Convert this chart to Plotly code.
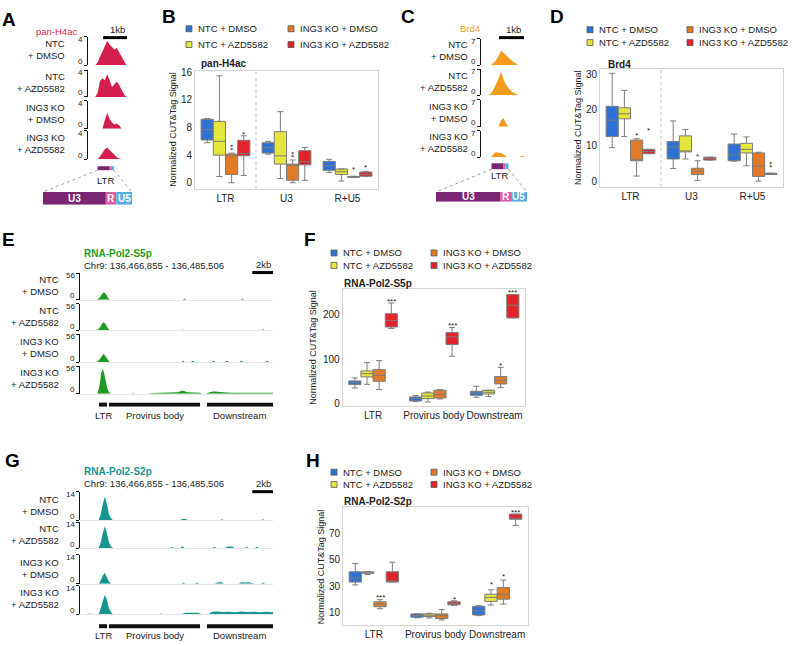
import plotly.graph_objects as go

W, H = 792, 646
FONT = "Liberation Sans, Arial, Helvetica, sans-serif"

conditions = ["NTC + DMSO", "NTC + AZD5582", "ING3 KO + DMSO", "ING3 KO + AZD5582"]
box_colors = ["#2e72d6", "#e5e63c", "#e27b28", "#e2242a"]
track_names = ["NTC<br>+ DMSO", "NTC<br>+ AZD5582", "ING3 KO<br>+ DMSO", "ING3 KO<br>+ AZD5582"]

# box summaries per region: [lower whisker, q1, median, q3, upper whisker]
b_regions = ["LTR", "U3", "R+U5"]
b_ntc_dmso = [[5.8, 6.2, 7.7, 9.2, 9.3], [4.15, 4.3, 5.1, 5.8, 6.0], [1.5, 1.8, 2.5, 3.1, 3.4]]
b_ntc_azd = [[0.9, 4.0, 6.0, 8.9, 15.5], [0.6, 2.7, 3.9, 7.4, 10.3], [0.25, 1.2, 1.6, 2.0, 2.0]]
b_ko_dmso = [[0.0, 1.2, 3.9, 4.15, 4.3], [0.0, 0.35, 2.5, 2.7, 3.3], [0.75, 0.8, 0.85, 0.9, 0.95]]
b_ko_azd = [[1.05, 3.9, 4.25, 6.15, 6.8], [0.35, 2.6, 3.05, 4.65, 5.1], [0.9, 0.95, 1.2, 1.55, 1.6]]
# (region, condition, label, y, stacked vertically)
b_stars = [(0, 2, "**", 5.2, True), (0, 3, "*", 7.3, False), (1, 2, "**", 4.15, True),
           (2, 2, "*", 2.25, False), (2, 3, "*", 2.5, False)]

d_regions = ["LTR", "U3", "R+U5"]
d_ntc_dmso = [[9.4, 12.5, 17.1, 21.0, 30.3], [3.5, 6.2, 9.6, 11.1, 16.9], [5.6, 5.7, 7.4, 10.4, 13.2]]
d_ntc_azd = [[12.5, 17.5, 18.9, 20.6, 25.5], [6.2, 8.2, 8.3, 12.7, 14.5], [4.3, 7.9, 8.9, 10.6, 12.4]]
d_ko_dmso = [[1.4, 5.7, 5.9, 11.5, 11.9], [0.2, 1.85, 2.8, 3.6, 5.7], [0.0, 1.3, 4.2, 7.9, 8.1]]
d_ko_azd = [[7.7, 7.7, 8.3, 8.9, 8.9], [5.9, 5.9, 6.4, 6.7, 6.7], [1.85, 1.85, 2.0, 2.2, 2.2]]
d_stars = [(0, 2, "*", 13.3, False), (0, 3, "*", 14.7, False), (1, 2, "*", 7.4, False),
           (2, 3, "**", 4.7, True)]

f_regions = ["LTR", "Provirus body", "Downstream"]
f_ntc_dmso = [[35, 42.7, 47, 51, 57.7], [4.5, 6, 11.2, 15, 18], [14.2, 18.7, 24, 27.7, 39]]
f_ntc_azd = [[43.4, 60, 67.4, 73.4, 92], [3.7, 11.2, 17, 24, 26], [15.7, 21.7, 25.5, 30, 30]]
f_ko_dmso = [[31.5, 50.2, 63.7, 76.4, 96.6], [10.5, 12.7, 21, 30, 31.5], [36, 44.2, 52.4, 60.7, 81.6]]
f_ko_azd = [[168.5, 172, 187, 202, 226], [106.4, 132.6, 150, 159.5, 171], [192.5, 192.5, 221, 245, 245]]
f_stars = [(0, 3, "***", 234, False), (1, 3, "***", 179, False), (2, 2, "*", 91, False),
           (2, 3, "***", 253, False)]

h_regions = ["LTR", "Provirus body", "Downstream"]
h_ntc_dmso = [[31.1, 33.3, 36.3, 41, 47.2], [6.3, 6.8, 8, 9.3, 9.3], [8, 8.5, 11.7, 15, 15.5]]
h_ntc_azd = [[39, 39.8, 40.3, 41, 41], [6.3, 7.3, 8.3, 9.3, 9.8], [16, 18.7, 21.7, 24.1, 27.4]]
h_ko_dmso = [[13.2, 14.7, 16.7, 18.4, 20], [4.8, 5.8, 8, 9.3, 12.5], [16.7, 20.4, 24.1, 29.1, 34.8]]
h_ko_azd = [[33.3, 33.3, 33.8, 41, 48.2], [15.7, 16.2, 17.2, 18.4, 19.2], [75.8, 80.5, 80.7, 84.4, 84.4]]
h_stars = [(0, 2, "***", 23.4, False), (1, 3, "*", 21.7, False), (2, 1, "*", 32.8, False),
           (2, 2, "*", 39, False), (2, 3, "***", 86.9, False)]

# coverage tracks (position in kb, signal)
a_kb = [0.3, 0.4, 0.5, 0.6, 0.7, 0.8, 0.9, 1.0, 1.1, 1.2, 1.3, 1.4, 1.5, 1.6]
a_ntc_dmso = [0, 0.4, 1.2, 1.9, 2.6, 3.4, 2.9, 2.6, 2.2, 2.4, 1.8, 1.3, 0.8, 0]
a_ntc_azd = [0, 0.6, 2.4, 2.8, 2.5, 3.4, 2.5, 1.5, 1.9, 2.3, 1.8, 1.0, 0.4, 0]
a_ko_dmso = [0, 0, 0, 0, 1.2, 2.3, 1.4, 0.9, 0.6, 0.7, 0.5, 0, 0, 0]
a_ko_azd = [0, 0, 0.4, 0.9, 1.4, 1.65, 1.3, 0.9, 0.6, 0.3, 0.1, 0, 0, 0]

c_kb = [0.3, 0.4, 0.5, 0.6, 0.7, 0.8, 0.9, 1.0, 1.1, 1.2, 1.3, 1.4, 1.5, 1.6, 1.7, 1.8]
c_ntc_dmso = [0, 0.1, 0.6, 1.3, 2.4, 3.9, 3.3, 2.6, 2.0, 1.4, 0.9, 0.5, 0, 0, 0, 0]
c_ntc_azd = [0, 0.5, 1.5, 2.8, 4.5, 6.3, 4.2, 2.8, 1.8, 1.1, 0.6, 0.2, 0, 0, 0, 0]
c_ko_dmso = [0, 0, 0, 0, 0, 1.6, 2.3, 0.8, 0, 0, 0, 0, 0, 0, 0, 0]
c_ko_azd = [0, 0, 0.9, 1.3, 1.2, 1.1, 0.8, 0.2, 0, 0, 0, 0, 0, 0.3, 0.3, 0]

e1_kb = [1.6, 1.9, 2.1, 2.3, 2.5, 2.7, 2.9, 9.9, 10.1, 10.3, 15.5, 15.7, 15.9]
e1_val = [0, 4, 11, 15.5, 12, 4, 0, 0, 2.5, 0, 0, 2.5, 0]
e2_kb = [1.6, 1.9, 2.1, 2.3, 2.5, 2.7, 2.9, 9.8, 9.95, 10.1, 17.5, 17.7, 17.9]
e2_val = [0, 5, 13, 17.5, 12, 4, 0, 0, 2.2, 0, 0, 2.5, 0]
e3_kb = [1.6, 1.9, 2.1, 2.3, 2.5, 2.7, 2.9, 9.8, 9.95, 10.1, 10.7, 10.9, 11.1, 12.7, 12.9, 13.1,
         14.0, 14.2, 14.4, 15.4, 15.6, 15.8, 17.9, 18.1, 18.3]
e3_val = [0, 5, 12, 17, 11, 4, 0, 0, 2.5, 0, 0, 2.5, 0, 0, 2.5, 0, 0, 2.5, 0, 0, 2.5, 0, 0, 2.5, 0]
e4_kb = [1.7, 1.9, 2.05, 2.2, 2.35, 2.5, 2.65, 2.8, 3.0, 5.0, 5.1, 5.2, 6.6, 7.0, 7.6, 8.2, 8.8, 9.4,
         9.7, 9.95, 10.2, 10.5, 11.0, 11.6, 11.8, 12.2, 12.5, 12.9, 13.3, 13.7, 14.2, 14.8, 15.4,
         16.0, 16.6, 17.2, 17.8, 18.4, 18.65]
e4_val = [0, 18, 42, 51, 40, 24, 10, 3, 0, 0, 1.5, 0, 0, 1.6, 2.0, 2.2, 2.4, 3.2, 4.8, 6.5, 4.2, 2.8,
          2.4, 1.8, 0, 0, 3.2, 4.4, 4.0, 2.8, 2.4, 2.2, 2.4, 2.0, 2.2, 2.4, 1.9, 2.1, 1.8]

g1_kb = [1.8, 2.0, 2.2, 2.4, 2.6, 2.8, 3.0, 3.2, 9.6, 9.9, 10.2, 10.5, 13.5, 13.7, 13.9, 17.5, 17.7, 17.9]
g1_val = [0, 3, 8, 11.5, 8, 3, 1, 0, 0, 0.7, 0.7, 0, 0, 0.5, 0, 0, 0.5, 0]
g2_kb = [1.8, 2.0, 2.2, 2.4, 2.6, 2.8, 3.0, 3.2, 8.7, 8.9, 9.1, 9.7, 9.9, 10.1, 12.8, 13.0, 13.2,
         14.0, 14.3, 14.7, 14.9, 15.9, 16.1, 16.3, 16.9, 17.1, 17.3]
g2_val = [0, 3, 8, 11.8, 8, 3, 1, 0, 0, 0.5, 0, 0, 1.0, 0, 0, 0.7, 0, 0, 0.8, 0.8, 0, 0, 0.6, 0,
          0, 0.7, 0]
g3_kb = [1.8, 2.0, 2.2, 2.4, 2.6, 2.8, 3.0, 4.9, 5.0, 5.1, 9.8, 10.0, 10.2, 11.1, 11.3, 11.5,
         13.0, 13.3, 13.7, 13.9, 15.3, 15.6, 16.0, 16.4, 16.8, 17.5, 17.7, 17.9]
g3_val = [0, 1.5, 4, 5.3, 3, 1, 0, 0, 0.3, 0, 0, 0.6, 0, 0, 0.5, 0, 0, 0.7, 0.7, 0, 0, 0.7, 0.5,
          0.7, 0, 0, 0.6, 0]
g4_kb = [0.3, 0.8, 1.4, 1.8, 2.0, 2.2, 2.4, 2.6, 2.8, 3.0, 3.2, 7.6, 7.8, 8.0, 9.8, 10.2, 10.8,
         11.4, 11.8, 12.4, 12.8, 13.3, 13.8, 14.4, 15.0, 15.6, 16.2, 16.8, 17.4, 18.0, 18.65]
g4_val = [0, 0.3, 0.2, 0, 3, 7, 9.6, 7, 3, 1, 0, 0, 0.4, 0, 0, 0.8, 0.7, 0.8, 0, 0, 1.2, 1.4, 1.1,
          1.3, 1.0, 1.4, 1.1, 1.3, 1.0, 1.3, 1.0]

locus = "Chr9: 136,466,855 - 136,485,506"
locus_kb = 18.651
gene_regions = ["LTR", "Provirus body", "Downstream"]
gene_start_kb = [1.84, 2.8, 12.27]
gene_end_kb = [2.61, 11.6, 18.65]

ltr_parts = ["U3", "R", "U5"]
ltr_bp = [480, 80, 120]
ltr_colors = ["#7a2673", "#dc5a9e", "#52aee2"]

fig = go.Figure()
layout = {}
ann = []
shapes = []


def names(n):
    s = "" if n == 1 else str(n)
    return "x" + s, "y" + s, "xaxis" + s, "yaxis" + s


def text(x, y, s, size=9, color="#222", xanchor="center", align="center", **kw):
    ann.append(dict(x=x / W, y=1 - y / H, xref="paper", yref="paper", text=s, showarrow=False,
                    font=dict(size=size, color=color), xanchor=xanchor, yanchor="middle",
                    align=align, **kw))


def box_panel(n, cats, data, stars, xpx, ypx, yrange, yticks, title, title_x, title_y,
              ytitle_x, leg_x, leg_y, divider):
    xa, ya, xk, yk = names(n)
    for i, stats in enumerate(data):
        fig.add_trace(go.Box(
            x=cats, lowerfence=[s[0] for s in stats], q1=[s[1] for s in stats],
            median=[s[2] for s in stats], q3=[s[3] for s in stats],
            upperfence=[s[4] for s in stats], name=conditions[i],
            alignmentgroup="panel%d" % n, offsetgroup=str(i),
            fillcolor=box_colors[i], line=dict(color="#7c7c7c", width=1), whiskerwidth=0.5,
            boxpoints=False, showlegend=False, hoverinfo="skip", xaxis=xa, yaxis=ya))
    layout[xk] = dict(domain=[xpx[0] / W, xpx[1] / W], anchor=ya, type="category",
                      range=[-0.5, 2.5], showline=True, mirror=True, linecolor="#d4d4d4",
                      ticks="", tickfont=dict(size=10, color="#222"), showgrid=False,
                      zeroline=False)
    layout[yk] = dict(domain=[1 - ypx[1] / H, 1 - ypx[0] / H], anchor=xa, range=yrange,
                      tickvals=yticks, showline=True, mirror=True, linecolor="#d4d4d4",
                      ticks="", tickfont=dict(size=10, color="#222"), showgrid=False,
                      zeroline=False)
    for ci, k, lab, yv, vert in stars:
        ann.append(dict(x=ci - 0.3 + 0.2 * k, y=yv, xref=xa, yref=ya, text=lab, showarrow=False,
                        font=dict(size=8, color="#222"), textangle=90 if vert else 0,
                        yshift=0 if vert else -2, xshift=-1 if vert else 0))
    if divider:
        shapes.append(dict(type="line", xref=xa, yref=ya + " domain", x0=0.5, x1=0.5, y0=0, y1=1,
                           line=dict(color="#bdbdbd", width=1, dash="dot")))
    text(title_x, title_y, "<b>%s</b>" % title, size=10, xanchor="left")
    text(ytitle_x, (ypx[0] + ypx[1]) / 2, "Normalized CUT&Tag Signal", size=9, textangle=-90)
    for i, cond in enumerate(conditions):
        sx = leg_x[i // 2]
        sy = leg_y[i % 2]
        shapes.append(dict(type="rect", xref="paper", yref="paper", x0=sx / W, x1=(sx + 6) / W,
                           y0=1 - (sy + 3) / H, y1=1 - (sy - 3) / H, fillcolor=box_colors[i],
                           line=dict(color="#555", width=0.8)))
        text(sx + 10, sy, cond, size=9.5, xanchor="left")


def track_panel(n0, positions, profiles, xpx, tracks_px, xrange, ymax, color, label_x, baseline):
    for j in range(4):
        xa, ya, xk, yk = names(n0 + j)
        top, bot = tracks_px[j]
        fig.add_trace(go.Scatter(x=positions[j], y=profiles[j], mode="lines", fill="tozeroy",
                                 line=dict(color=color, width=0), fillcolor=color,
                                 showlegend=False, hoverinfo="skip", xaxis=xa, yaxis=ya))
        layout[xk] = dict(domain=[xpx[0] / W, xpx[1] / W], anchor=ya, range=xrange,
                          showline=baseline, linecolor="#e6e6e6", linewidth=1,
                          showticklabels=False, ticks="", showgrid=False, zeroline=False)
        layout[yk] = dict(domain=[1 - bot / H, 1 - top / H], anchor=xa, range=[0, ymax],
                          tickvals=[0, ymax], ticks="outside", ticklen=3, tickcolor="#111",
                          showticklabels=False, showline=True, linecolor="#111", linewidth=1,
                          showgrid=False, zeroline=False)
        # bracket labels sit a little inside the bracket ends
        for val, dy in [(ymax, -2.5), (0, 4)]:
            ann.append(dict(x=xrange[0], y=val, xref=xa, yref=ya, text=str(val),
                            showarrow=False, xanchor="right", yanchor="middle", xshift=-3,
                            yshift=dy, font=dict(size=8, color="#222")))
        text(label_x, (top + bot) / 2 - 1, track_names[j], size=9.5, xanchor="right", align="right")


def kb_to_px(kb, xpx, xrange):
    return xpx[0] + (kb - xrange[0]) / (xrange[1] - xrange[0]) * (xpx[1] - xpx[0])


def ltr_schematic(n_track, n_bar, xpx, xrange, ltr_start, small_y, ltr_label, bar_px, bar_y):
    xa = names(n_track)[0]
    kb = ltr_start
    for length, col in zip(ltr_bp, ltr_colors):
        shapes.append(dict(type="rect", xref=xa, yref="paper", x0=kb, x1=kb + length / 1000,
                           y0=1 - small_y[1] / H, y1=1 - small_y[0] / H, fillcolor=col,
                           line=dict(width=0)))
        kb += length / 1000
    x_left = kb_to_px(ltr_start, xpx, xrange)
    x_right = kb_to_px(kb, xpx, xrange)
    text((x_left + x_right) / 2, ltr_label, "LTR", size=9.5)
    for x0, x1 in [(x_left, bar_px[0]), (x_right, bar_px[1])]:
        shapes.append(dict(type="line", xref="paper", yref="paper", x0=x0 / W, x1=x1 / W,
                           y0=1 - small_y[1] / H, y1=1 - bar_y[0] / H,
                           line=dict(color="#888", width=0.8, dash="dot")))
    bxa, bya, bxk, byk = names(n_bar)
    base = 0
    for part, length, col in zip(ltr_parts, ltr_bp, ltr_colors):
        fig.add_trace(go.Bar(x=[length], y=[0], base=[base], orientation="h", width=1,
                             marker=dict(color=col, line=dict(width=0)), showlegend=False,
                             hoverinfo="skip", xaxis=bxa, yaxis=bya))
        ann.append(dict(x=base + length / 2, y=0, xref=bxa, yref=bya, text="<b>%s</b>" % part,
                        showarrow=False, font=dict(size=10, color="white")))
        base += length
    layout[bxk] = dict(domain=[bar_px[0] / W, bar_px[1] / W], anchor=bya, range=[0, base],
                       visible=False)
    layout[byk] = dict(domain=[1 - bar_y[1] / H, 1 - bar_y[0] / H], anchor=bxa,
                       range=[-0.5, 0.5], visible=False)


def scale_bar(n_track, kb0, kb1, y, label, label_x, label_y):
    xa = names(n_track)[0]
    shapes.append(dict(type="line", xref=xa, yref="paper", x0=kb0, x1=kb1, y0=1 - y / H,
                       y1=1 - y / H, line=dict(color="black", width=3)))
    text(label_x, label_y, label, size=9.5, xanchor="right")


def region_bars(n_track, y0, y1, label_y, xpx, xrange):
    xa = names(n_track)[0]
    for lab, s, e in zip(gene_regions, gene_start_kb, gene_end_kb):
        shapes.append(dict(type="rect", xref=xa, yref="paper", x0=s, x1=e, y0=1 - y1 / H,
                           y1=1 - y0 / H, fillcolor="#111", line=dict(width=0)))
        text(kb_to_px((s + e) / 2, xpx, xrange), label_y, lab, size=9.5)


# ---------------- box plot panels
box_panel(1, b_regions, [b_ntc_dmso, b_ntc_azd, b_ko_dmso, b_ko_azd], b_stars, (195, 378),
          (67.7, 186.7), [-0.86, 16.2], [0, 4, 8, 12, 16], "pan-H4ac", 199, 60, 173,
          (186, 288), (25, 41), True)
box_panel(2, d_regions, [d_ntc_dmso, d_ntc_azd, d_ko_dmso, d_ko_azd], d_stars, (600, 783),
          (65.7, 185), [-1.67, 31.5], [0, 10, 20, 30], "Brd4", 606, 61, 578,
          (587, 687), (26, 39), True)
box_panel(3, f_regions, [f_ntc_dmso, f_ntc_azd, f_ko_dmso, f_ko_azd], f_stars, (342.7, 525),
          (288.3, 406.7), [-6, 257], [0, 100, 200], "RNA-Pol2-S5p", 342, 283, 313,
          (331, 431), (251.7, 264.3), False)
box_panel(4, h_regions, [h_ntc_dmso, h_ntc_azd, h_ko_dmso, h_ko_azd], h_stars, (343, 528),
          (509, 628.3), [0.57, 89.4], [10, 30, 50, 70], "RNA-Pol2-S2p", 342, 503, 321.7,
          (331, 431), (473.3, 485.7), False)

# ---------------- A: pan-H4ac tracks
a_x, a_range = (88, 127), [0, 1.625]
track_panel(5, [a_kb] * 4, [a_ntc_dmso, a_ntc_azd, a_ko_dmso, a_ko_azd], a_x,
            [(33, 62), (67, 94), (98, 126), (128, 157)], a_range, 4, "#d41f4e", 67, False)
text(56.5, 28, "pan-H4ac", size=9.5, color="#d41f4e")
scale_bar(5, 0.625, 1.625, 34, "1kb", 127, 26)
ltr_schematic(8, 21, a_x, a_range, 0.40, (164, 168), 178, (43, 132), (190, 203))

# ---------------- C: Brd4 tracks
c_x, c_range = (481, 527), [0, 1.84]
track_panel(9, [c_kb] * 4, [c_ntc_dmso, c_ntc_azd, c_ko_dmso, c_ko_azd], c_x,
            [(35, 62), (66, 92), (97, 124), (128, 155)], c_range, 7, "#f29b1d", 470, False)
text(469.5, 25, "Brd4", size=9.5, color="#f29b1d")
scale_bar(9, 0.72, 1.72, 34, "1kb", 523, 26)
ltr_schematic(12, 22, c_x, c_range, 0.42, (161, 167), 173.5, (436, 527), (190, 200))

# ---------------- E: RNA-Pol2-S5p tracks
e_x, e_range = (80, 273), [0, locus_kb]
track_panel(13, [e1_kb, e2_kb, e3_kb, e4_kb], [e1_val, e2_val, e3_val, e4_val], e_x,
            [(272, 299), (303, 330), (334, 362), (366, 394)], e_range, 56, "#1f9a22", 61, True)
text(82, 252, "<b>RNA-Pol2-S5p</b>", size=10, color="#1f9a22", xanchor="left")
text(82, 264, locus, size=9.5, xanchor="left")
scale_bar(13, locus_kb - 2, locus_kb, 271.5, "2kb", 273, 263)
region_bars(16, 403, 407, 416, e_x, e_range)

# ---------------- G: RNA-Pol2-S2p tracks
track_panel(17, [g1_kb, g2_kb, g3_kb, g4_kb], [g1_val, g2_val, g3_val, g4_val], e_x,
            [(493, 522), (524, 550), (557, 586), (588, 617)], e_range, 14, "#17968f", 61, True)
text(82, 473, "<b>RNA-Pol2-S2p</b>", size=10, color="#17968f", xanchor="left")
text(82, 485, locus, size=9.5, xanchor="left")
scale_bar(17, locus_kb - 2, locus_kb, 493, "2kb", 273, 485)
region_bars(20, 627, 631, 638, e_x, e_range)

# ---------------- panel letters
for letter, lx, ly in [("A", 9, 16), ("B", 169, 13), ("C", 408, 13), ("D", 557, 13),
                       ("E", 8, 238), ("F", 310, 238), ("G", 12, 461), ("H", 313, 461)]:
    text(lx, ly, "<b>%s</b>" % letter, size=19, color="#000")

fig.update_layout(
    width=W, height=H, margin=dict(l=0, r=0, t=0, b=0),
    paper_bgcolor="white", plot_bgcolor="white",
    font=dict(family=FONT, color="#222"),
    boxmode="group", boxgap=0.2, boxgroupgap=0, barmode="overlay",
    annotations=ann, shapes=shapes, showlegend=False,
    **layout)

# the page body keeps its default 8px margin otherwise
fig.write_html("out.html", config={"displayModeBar": False},
               post_script="document.body.style.margin = '0px';")
